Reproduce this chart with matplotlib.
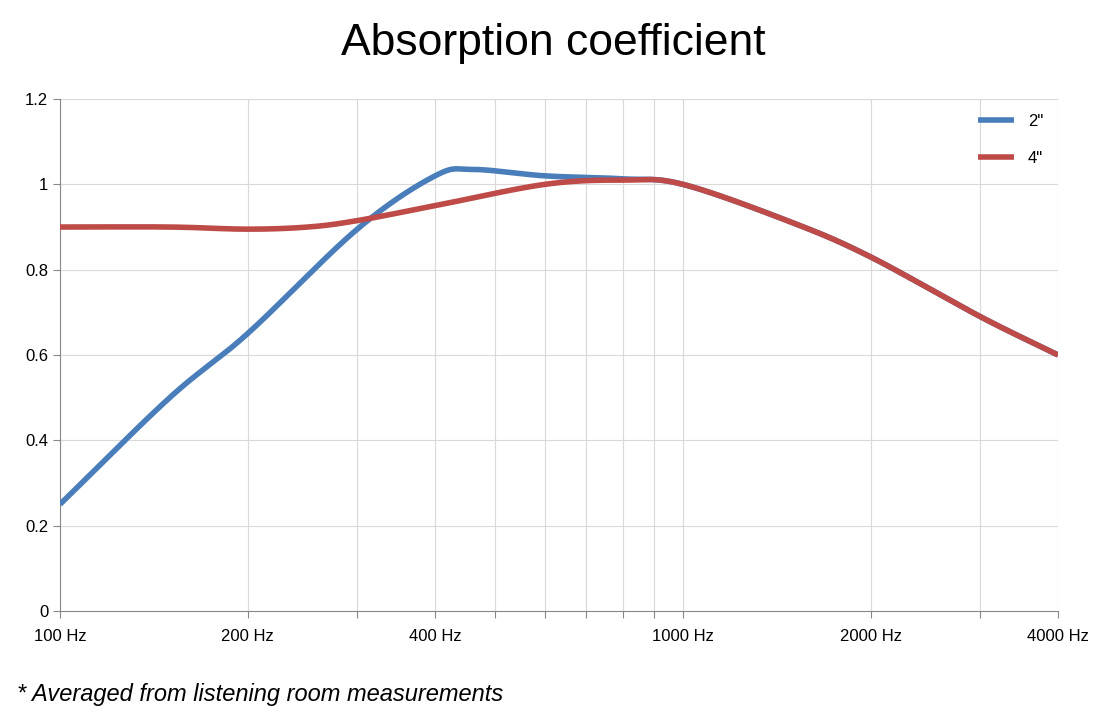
import numpy as np
import matplotlib
matplotlib.use("Agg")
import matplotlib.pyplot as plt

plt.rcParams['font.family'] = ['Liberation Sans', 'DejaVu Sans']

freq_2in = [100, 150, 200, 300, 400, 460, 600, 800, 1000, 1500, 2000, 3000, 4000]
abs_2in = [0.25, 0.50, 0.65, 0.895, 1.02, 1.035, 1.02, 1.013, 1.0, 0.91, 0.83, 0.69, 0.60]
freq_4in = [100, 150, 200, 250, 300, 400, 600, 800, 1000, 1500, 2000, 3000, 4000]
abs_4in = [0.90, 0.90, 0.895, 0.90, 0.915, 0.95, 1.0, 1.01, 1.0, 0.91, 0.83, 0.69, 0.60]
tick_freqs = [100, 200, 400, 1000, 2000, 4000]
tick_labels = ["100 Hz", "200 Hz", "400 Hz", "1000 Hz", "2000 Hz", "4000 Hz"]
grid_freqs = [100, 200, 300, 400, 500, 600, 700, 800, 900, 1000, 2000, 3000, 4000]

def smooth(xs, ys, n=30):
    lx = np.log10(xs); y = np.array(ys, float)
    P = np.column_stack([lx, y])
    P = np.vstack([2*P[0]-P[1], P, 2*P[-1]-P[-2]])
    out = []
    for i in range(1, len(P)-2):
        p0, p1, p2, p3 = P[i-1], P[i], P[i+1], P[i+2]
        for t in np.linspace(0, 1, n, endpoint=False):
            out.append(0.5*((2*p1) + (-p0+p2)*t + (2*p0-5*p1+4*p2-p3)*t**2 + (-p0+3*p1-3*p2+p3)*t**3))
    out.append(P[-2])
    out = np.array(out)
    return 10**out[:, 0], out[:, 1]

fig = plt.figure(figsize=(11.07, 7.23), dpi=100)
ax = fig.add_axes([0.0542, 0.155, 0.9016, 0.708])
ax.set_xscale('log')
ax.set_xlim(100, 4000)
ax.set_ylim(0, 1.2)
for g in grid_freqs:
    ax.axvline(g, color='#d9d9d9', lw=0.8, zorder=0)
for yv in np.arange(0.2, 1.21, 0.2):
    ax.axhline(yv, color='#d9d9d9', lw=0.8, zorder=0)

x, y = smooth(freq_2in, abs_2in)
ax.plot(x, y, color='#4a7ebb', lw=4, label='2"', zorder=3, solid_capstyle='butt')
x, y = smooth(freq_4in, abs_4in)
ax.plot(x, y, color='#be4b48', lw=4, label='4"', zorder=4, solid_capstyle='butt')

ax.set_xticks(grid_freqs)
ax.set_xticklabels([tick_labels[tick_freqs.index(g)] if g in tick_freqs else "" for g in grid_freqs])
ax.xaxis.set_minor_locator(matplotlib.ticker.NullLocator())
ax.set_yticks(np.arange(0, 1.21, 0.2))
ax.set_yticklabels(["0", "0.2", "0.4", "0.6", "0.8", "1", "1.2"])
ax.tick_params(axis='x', length=5, color='#888888', labelsize=12, pad=8)
ax.tick_params(axis='y', length=5, color='#888888', labelsize=12)
for s in ['top', 'right']:
    ax.spines[s].set_visible(False)
ax.spines['left'].set_color('#888888')
ax.spines['bottom'].set_color('#888888')

ax.legend(loc='upper right', frameon=False, fontsize=12,
          handlelength=2.2, labelspacing=1.3, bbox_to_anchor=(1.0, 1.0))

fig.text(0.5, 0.94, "Absorption coefficient", ha='center', va='center', fontsize=32)
fig.text(0.015, 0.04, "* Averaged from listening room measurements", fontsize=17, style='italic', va='center')
fig.savefig("out.png", dpi=100)
